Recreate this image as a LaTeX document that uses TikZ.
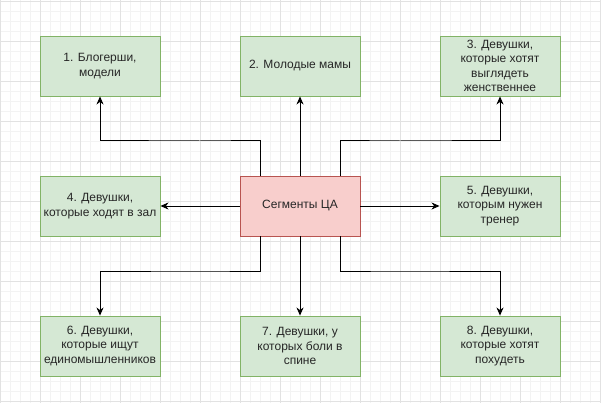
\documentclass[tikz,border=0pt]{standalone}
\usepackage{fontspec}
\setmainfont{Liberation Sans}
\usetikzlibrary{arrows.meta}
\definecolor{gfill}{HTML}{D5E8D4}
\definecolor{gline}{HTML}{82B366}
\definecolor{rfill}{HTML}{F8CECC}
\definecolor{rline}{HTML}{B85450}
\definecolor{gridminor}{HTML}{F3F3F3}
\definecolor{gridmajor}{HTML}{E2E2E2}
\tikzset{
  seg/.style={draw=gline, fill=gfill, line width=0.9pt, minimum width=120pt, minimum height=60pt,
    inner sep=0pt, align=center, font=\fontsize{12}{14.3}\selectfont, text=black!85},
  hub/.style={seg, draw=rline, fill=rfill},
  conn/.style={line width=1pt, -{Stealth[length=8pt,width=7pt,inset=2.5pt]}, black}
}
\begin{document}
\begin{tikzpicture}[x=1pt,y=-1pt]
\useasboundingbox (0,0) rectangle (601,403);
\fill[white] (0,0) rectangle (601,403);
% grid
\foreach \i in {0,...,60} {
  \draw[gridminor, line width=0.6pt] (\i*10,0) -- (\i*10,403);
}
\foreach \j in {0,...,40} {
  \draw[gridminor, line width=0.6pt] (0,1.7+\j*10) -- (601,1.7+\j*10);
}
\foreach \i in {0,...,15} {
  \draw[gridmajor, line width=0.6pt] (\i*40,0) -- (\i*40,403);
}
\foreach \j in {0,...,10} {
  \draw[gridmajor, line width=0.6pt] (0,1.7+\j*40) -- (601,1.7+\j*40);
}
% nodes
\node[hub] (c) at (300,206) {Сегменты ЦА};
\node[seg] (n1) at (100,66) {1. Блогерши,\\модели};
\node[seg] (n2) at (300,66) {2. Молодые мамы};
\node[seg] (n3) at (500,66) {3. Девушки,\\которые хотят\\выглядеть\\женственнее};
\node[seg] (n4) at (100,206) {4. Девушки,\\которые ходят в зал};
\node[seg] (n5) at (500,206) {5. Девушки,\\которым нужен\\тренер};
\node[seg] (n6) at (100,346) {6. Девушки,\\которые ищут\\единомышленников};
\node[seg] (n7) at (300,346) {7. Девушки, у\\которых боли в\\спине};
\node[seg] (n8) at (500,346) {8. Девушки,\\которые хотят\\похудеть};
% connectors
\draw[conn] ([xshift=-40pt]c.north) |- (200,141) -| (n1.south);
\draw[conn] (c.north) -- (n2.south);
\draw[conn] ([xshift=40pt]c.north) |- (400,141) -| (n3.south);
\draw[conn] (c.west) -- (n4.east);
\draw[conn] (c.east) -- (n5.west);
\draw[conn] ([xshift=-40pt]c.south) |- (200,271) -| (n6.north);
\draw[conn] (c.south) -- (n7.north);
\draw[conn] ([xshift=40pt]c.south) |- (400,271) -| (n8.north);
\end{tikzpicture}
\end{document}
